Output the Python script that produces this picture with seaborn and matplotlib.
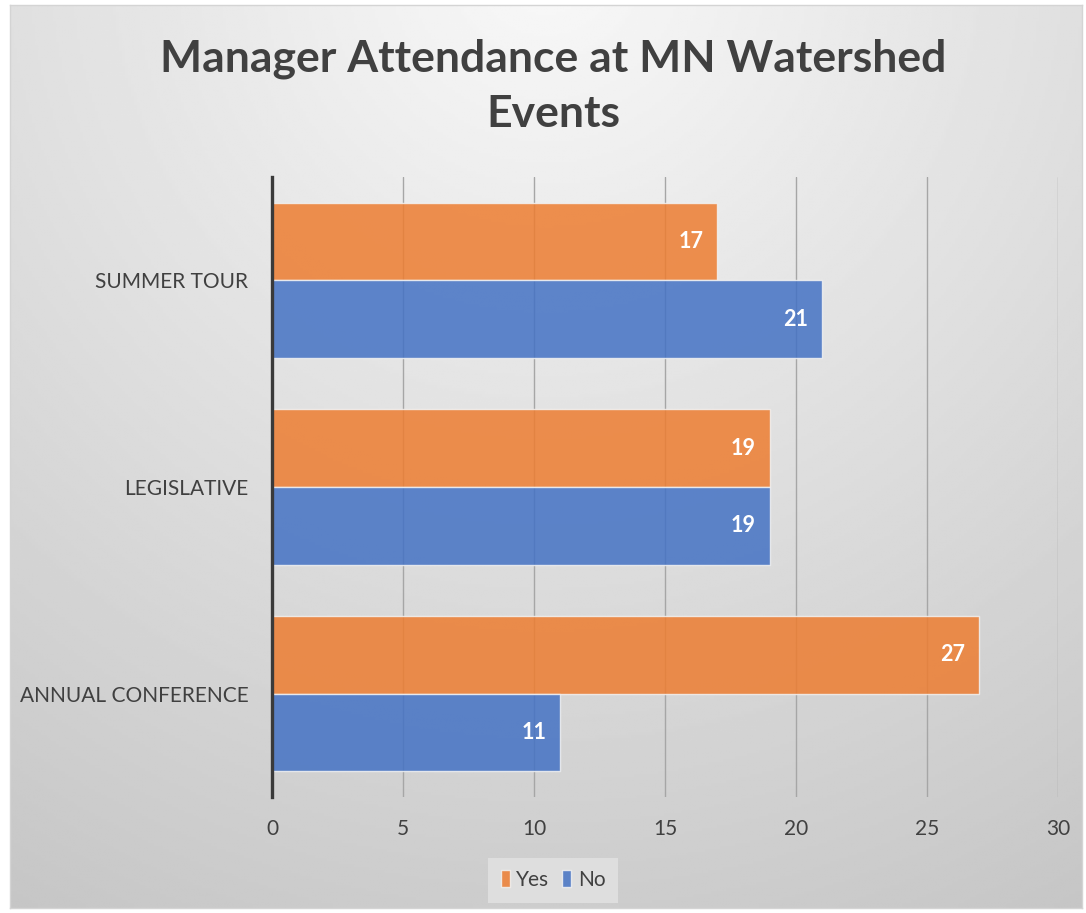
import numpy as np
import pandas as pd
import matplotlib
matplotlib.use("Agg")
import matplotlib.pyplot as plt
import seaborn as sns

categories = ["SUMMER TOUR", "LEGISLATIVE", "ANNUAL CONFERENCE"]
series_names = ["Yes", "No"]
yes_values = [17, 19, 27]
no_values = [21, 19, 11]
x_ticks = [0, 5, 10, 15, 20, 25, 30]
title = "Manager Attendance at MN Watershed\nEvents"

df = pd.DataFrame({
    "event": categories * 2,
    "answer": ["Yes"] * len(categories) + ["No"] * len(categories),
    "count": yes_values + no_values,
})

sns.set_theme(style="white")
plt.rcParams["font.family"] = ["Lato", "DejaVu Sans"]

W, H = 1086, 913
fig = plt.figure(figsize=(W / 100, H / 100), dpi=100)
fig.patch.set_facecolor("white")

# background gradient panel
bg = fig.add_axes([10 / W, 1 - 908 / H, (1082 - 10) / W, (908 - 5) / H], zorder=0)
yy, xx = np.mgrid[0:1:300j, 0:1:360j]
r = np.sqrt(((xx - 0.5) * 1.2) ** 2 + (yy + 0.05) ** 2)
grad = 0.975 - 0.2 * r / r.max()
bg.imshow(grad, cmap="gray", vmin=0, vmax=1, aspect="auto", extent=[0, 1, 1, 0])
bg.set_xticks([]); bg.set_yticks([])
for s in bg.spines.values():
    s.set_color("#D4D4D4"); s.set_linewidth(1.0)

ax = fig.add_axes([272 / W, 1 - 797 / H, (1058 - 272) / W, (797 - 177) / H], zorder=1)
ax.patch.set_alpha(0)

palette = {"Yes": "#ED7D31", "No": "#4472C4"}
sns.barplot(data=df, y="event", x="count", hue="answer", hue_order=series_names,
            order=categories, palette=palette, orient="h", width=0.75,
            saturation=1, alpha=0.85, edgecolor="#F2F2F2", linewidth=1.0,
            ax=ax, legend=True, zorder=2)

ax.set_xlim(0, 30)
ax.set_ylim(2.5, -0.5)
ax.set_xticks(x_ticks)
ax.set_xticklabels([str(t) for t in x_ticks])
ax.grid(axis="x", color="#A6A6A6", linewidth=1.0, zorder=1)
ax.set_axisbelow(True)
ax.set_xlabel(""); ax.set_ylabel("")
for side in ["top", "right", "bottom"]:
    ax.spines[side].set_visible(False)
ax.spines["left"].set_color("#3A3A3A")
ax.spines["left"].set_linewidth(2.4)
ax.spines["left"].set_zorder(5)
ax.tick_params(axis="x", length=0, pad=16, labelsize=15, labelcolor="#404040")
ax.tick_params(axis="y", length=0, pad=17, labelsize=15, labelcolor="#404040")

for cont in ax.containers:
    ax.bar_label(cont, fmt="%d", label_type="edge", padding=-28, color="white",
                 fontsize=15.5, fontweight="bold")

leg = ax.legend(loc="center", bbox_to_anchor=(553 / W, 1 - 880 / H),
                bbox_transform=fig.transFigure, ncol=2, frameon=True,
                fontsize=15, handlelength=0.45, handleheight=0.9,
                handletextpad=0.3, columnspacing=0.6, borderpad=0.6,
                fancybox=False)
leg.get_frame().set_facecolor("#DEDEDE")
leg.get_frame().set_edgecolor("none")
leg.get_frame().set_alpha(1)
for t in leg.get_texts():
    t.set_color("#404040")

fig.text(553 / W, 1 - 86 / H, title, ha="center", va="center", fontsize=32,
         fontweight="bold", color="#404040", linespacing=1.45)

fig.savefig("out.png", dpi=100)
